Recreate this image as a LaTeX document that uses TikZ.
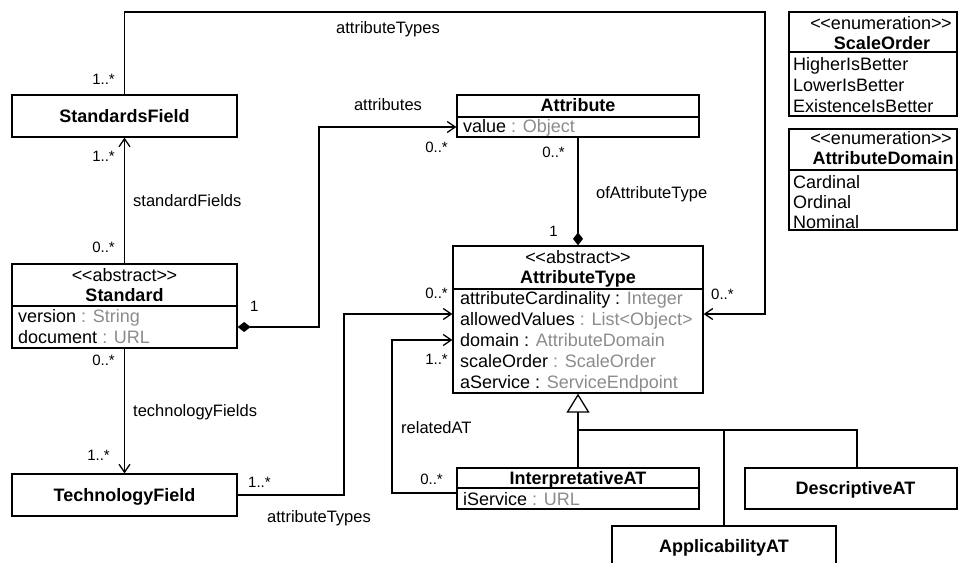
\documentclass[tikz,border=0pt]{standalone}
\usepackage{fontspec}
\setmainfont{Liberation Sans}
\usetikzlibrary{arrows.meta}
\definecolor{typegray}{RGB}{140,140,140}
\newcommand{\stereo}[1]{<\kern-0.5pt<#1>\kern-0.5pt>}
\newcommand{\ty}[1]{{\color{typegray}#1}}

\begin{document}
\begin{tikzpicture}[x=1pt,y=-1pt,
  box/.style={draw, line width=1.3pt, inner sep=0pt, fill=white},
  sep/.style={line width=1.3pt},
  ctext/.style={font=\fontsize{18}{21}\selectfont, inner sep=0pt, text height=12.9pt, text depth=0pt},
  ctitle/.style={font=\fontsize{18}{21}\selectfont\bfseries, inner sep=0pt, text height=12.9pt, text depth=0pt},
  lbl/.style={font=\fontsize{16.5}{19}\selectfont, inner sep=0pt, text height=11.8pt, text depth=0pt},
  mult/.style={font=\fontsize{15}{18}\selectfont, inner sep=0pt, text height=10.7pt, text depth=0pt},
  conn/.style={line width=1.3pt},
  nav/.style={conn, -{Straight Barb[length=8pt,width=11pt]}},
  comp/.style={conn, {Diamond[length=13pt,width=10pt]}-{Straight Barb[length=8pt,width=11pt]}},
  compend/.style={conn, -{Diamond[length=13pt,width=10pt]}},
  inherit/.style={conn, -{Triangle[open,length=19pt,width=23pt,fill=white]}},
]
\useasboundingbox (0,0) rectangle (958,562);
\clip (0,0) rectangle (958,562);

% ---------- classes on the left ----------
\node[box, minimum width=225pt, minimum height=42pt] (sf) at (124.5,116) {};
\node[ctitle] (sf-name) at (sf.center) {StandardsField};

\node[box, minimum width=225pt, minimum height=84pt] (std) at (124.5,306) {};
\draw[sep] (std.west) -- (std.east);
\node[ctext] (std-st) at (124.5,275) {\stereo{abstract}};
\node[ctitle] (std-name) at (124.5,295) {Standard};
\node[ctext, anchor=west] (std-a1) at (18,316) {version \ty{: String}};
\node[ctext, anchor=west] (std-a2) at (18,337) {document \ty{: URL}};

\node[box, minimum width=225pt, minimum height=42pt] (tf) at (124.5,495) {};
\node[ctitle] (tf-name) at (tf.center) {TechnologyField};

% ---------- attribute classes ----------
\node[box, minimum width=242pt, minimum height=42pt] (attr) at (578,116) {};
\draw[sep] ([yshift=-1pt]attr.west) -- ([yshift=-1pt]attr.east);
\node[ctitle] (attr-name) at (578,105) {Attribute};
\node[ctext, anchor=west] (attr-a1) at (463,126.5) {value \ty{: Object}};

\node[box, minimum width=250pt, minimum height=147pt] (at) at (578,319.5) {};
\draw[sep] ([yshift=30.5pt]at.west) -- ([yshift=30.5pt]at.east);
\node[ctext] (at-st) at (578,257) {\stereo{abstract}};
\node[ctitle] (at-name) at (578,277) {AttributeType};
\node[ctext, anchor=west] (at-a1) at (460,298) {attributeCardinality : \ty{Integer}};
\node[ctext, anchor=west] (at-a2) at (460,319) {allowedValues \ty{: List<Object>}};
\node[ctext, anchor=west] (at-a3) at (460,340) {domain : \ty{AttributeDomain}};
\node[ctext, anchor=west] (at-a4) at (460,361) {scaleOrder \ty{: ScaleOrder}};
\node[ctext, anchor=west] (at-a5) at (460,382) {aService : \ty{ServiceEndpoint}};

\node[box, minimum width=242pt, minimum height=41pt] (iat) at (578,488.5) {};
\draw[sep] ([yshift=0.5pt]iat.west) -- ([yshift=0.5pt]iat.east);
\node[ctitle] (iat-name) at (578,478) {InterpretativeAT};
\node[ctext, anchor=west] (iat-a1) at (463,499) {iService \ty{: URL}};

\node[box, minimum width=212pt, minimum height=41pt] (dat) at (851,488.5) {};
\node[ctitle] (dat-name) at (855.5,488.5) {DescriptiveAT};

\node[box, minimum width=224pt, minimum height=41pt] (aat) at (724,546.5) {};
\node[ctitle] (aat-name) at (724,546.5) {ApplicabilityAT};

% ---------- enumerations ----------
\node[box, minimum width=168pt, minimum height=104pt] (so) at (873,64) {};
\draw[sep] ([yshift=12pt]so.west) -- ([yshift=12pt]so.east);
\node[ctext] (so-st) at (881,23) {\stereo{enumeration}};
\node[ctitle] (so-name) at (882,43) {ScaleOrder};
\node[ctext, anchor=west] (so-v1) at (793,64) {HigherIsBetter};
\node[ctext, anchor=west] (so-v2) at (793,85) {LowerIsBetter};
\node[ctext, anchor=west] (so-v3) at (793,106) {ExistenceIsBetter};

\node[box, minimum width=168pt, minimum height=101pt] (ad) at (873,179.5) {};
\draw[sep] ([yshift=9.5pt]ad.west) -- ([yshift=9.5pt]ad.east);
\node[ctext] (ad-st) at (881,138) {\stereo{enumeration}};
\node[ctitle] (ad-name) at (883,158) {AttributeDomain};
\node[ctext, anchor=west] (ad-v1) at (793,182) {Cardinal};
\node[ctext, anchor=west] (ad-v2) at (793,202) {Ordinal};
\node[ctext, anchor=west] (ad-v3) at (793,222) {Nominal};

% ---------- routing points ----------
\coordinate (jTop) at (765,12);
\coordinate (jA) at (319,127);
\coordinate (jB) at (344,314);
\coordinate (jC) at (392,340);
\coordinate (jG) at (578,430);

% ---------- associations ----------
\draw[nav] (sf.north) |- (jTop) |- ([yshift=5.5pt]at.east);
\draw[nav] (std.north) -- (sf.south);
\draw[nav] (std.south) -- (tf.north);
\draw[comp] ([yshift=-21pt]std.east) -| (jA) -- (jA -| attr.west);
\draw[compend] (attr.south) -- (at.north);
\draw[nav] (tf.east) -| (jB) -- (jB -| at.west);
\draw[nav] ([yshift=-4.5pt]iat.west) -| (jC) -- (jC -| at.west);

% ---------- generalisation ----------
\draw[inherit] (iat.north) -- (at.south);
\draw[conn] (aat.north) |- (jG);
\draw[conn] ([xshift=6pt]dat.north) |- (jG);

% ---------- role names ----------
\node[lbl] (l-top) at (388,28) {attributeTypes};
\node[lbl, anchor=west] (l-sf) at (133,201) {standardFields};
\node[lbl, anchor=west] (l-tf) at (133,411) {technologyFields};
\node[lbl] (l-attr) at (388,105) {attributes};
\node[lbl, anchor=west] (l-oat) at (596,193) {ofAttributeType};
\node[lbl, anchor=west] (l-rel) at (401,428) {relatedAT};
\node[lbl, anchor=west] (l-bot) at (267,517) {attributeTypes};

% ---------- multiplicities ----------
\node[mult, anchor=east] (m1) at (115,79) {1..*};
\node[mult, anchor=east] (m2) at (115,156) {1..*};
\node[mult, anchor=east] (m3) at (115,247) {0..*};
\node[mult, anchor=east] (m4) at (115,360) {0..*};
\node[mult, anchor=east] (m5) at (110,455) {1..*};
\node[mult, anchor=west] (m6) at (250,306) {1};
\node[mult, anchor=east] (m7) at (448,147) {0..*};
\node[mult, anchor=east] (m8) at (565,152) {0..*};
\node[mult, anchor=east] (m9) at (558,231) {1};
\node[mult, anchor=east] (m10) at (448,293) {0..*};
\node[mult, anchor=east] (m11) at (448,359) {1..*};
\node[mult, anchor=west] (m12) at (711,294) {0..*};
\node[mult, anchor=west] (m13) at (248,482) {1..*};
\node[mult, anchor=east] (m14) at (443,479) {0..*};
\end{tikzpicture}
\end{document}
